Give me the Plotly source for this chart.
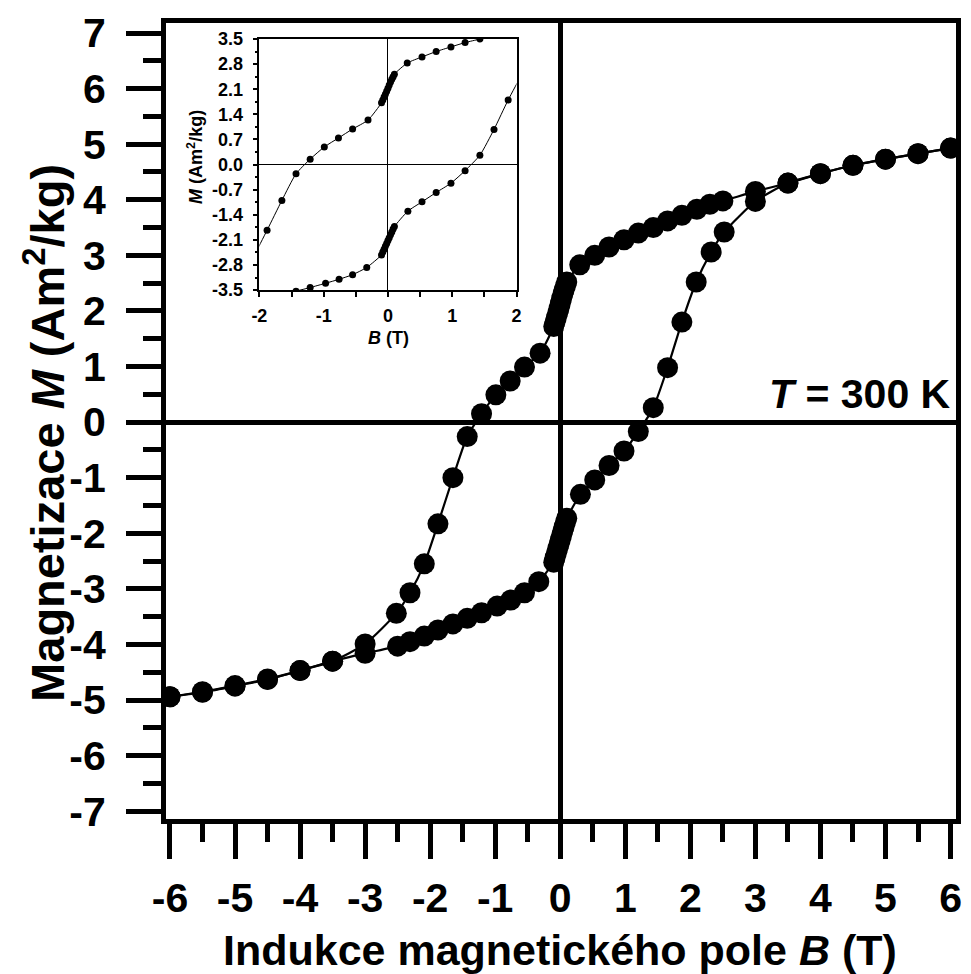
import plotly.graph_objects as go

# ---------------- data ----------------
# descending-field branch (upper branch)
upper_B = [6.0, 5.5, 5.0, 4.5, 4.0, 3.5, 3.0,
           2.5, 2.3, 2.1, 1.87, 1.65, 1.43, 1.2, 0.98, 0.75, 0.53, 0.3,
           0.1, 0.08, 0.06, 0.04, 0.02, 0.0, -0.02, -0.04, -0.06, -0.08, -0.1,
           -0.31, -0.55, -0.77, -0.99, -1.21, -1.43, -1.65, -1.88, -2.09, -2.31, -2.52,
           -3.0, -3.5, -4.0, -4.5, -5.0, -5.5, -6.0]
upper_M = [4.93, 4.83, 4.73, 4.62, 4.47, 4.30, 4.15,
           3.98, 3.92, 3.83, 3.72, 3.62, 3.50, 3.40, 3.28, 3.15, 3.00, 2.83,
           2.52, 2.45, 2.38, 2.30, 2.22, 2.13, 2.04, 1.96, 1.88, 1.80, 1.72,
           1.24, 0.99, 0.74, 0.49, 0.15, -0.26, -1.00, -1.83, -2.55, -3.07, -3.44,
           -3.99, -4.30, -4.47, -4.63, -4.75, -4.86, -4.94]

# ascending-field branch (lower branch)
lower_B = [-6.0, -5.5, -5.0, -4.5, -4.0, -3.5, -3.0,
           -2.5, -2.31, -2.09, -1.88, -1.65, -1.43, -1.21, -0.97, -0.76, -0.55, -0.33,
           -0.1, -0.08, -0.06, -0.04, -0.02, 0.0, 0.02, 0.04, 0.06, 0.08, 0.1,
           0.31, 0.53, 0.75, 0.98, 1.2, 1.43, 1.65, 1.87, 2.09, 2.32, 2.52,
           3.0, 3.5, 4.0, 4.5, 5.0, 5.5, 6.0]
lower_M = [-4.94, -4.85, -4.74, -4.62, -4.47, -4.30, -4.16,
           -4.03, -3.95, -3.85, -3.74, -3.63, -3.53, -3.43, -3.31, -3.20, -3.07, -2.87,
           -2.52, -2.44, -2.36, -2.28, -2.20, -2.12, -2.04, -1.96, -1.88, -1.80, -1.73,
           -1.30, -1.04, -0.78, -0.52, -0.17, 0.26, 0.98, 1.80, 2.52, 3.06, 3.42,
           3.97, 4.30, 4.47, 4.62, 4.73, 4.83, 4.93]

# tick labels
x_tick_vals = [-6, -5, -4, -3, -2, -1, 0, 1, 2, 3, 4, 5, 6]
x_tick_text = ["-6", "-5", "-4", "-3", "-2", "-1", "0", "1", "2", "3", "4", "5", "6"]
y_tick_vals = [-7, -6, -5, -4, -3, -2, -1, 0, 1, 2, 3, 4, 5, 6, 7]
y_tick_text = ["-7", "-6", "-5", "-4", "-3", "-2", "-1", "0", "1", "2", "3", "4", "5", "6", "7"]
inset_x_tick_vals = [-2, -1, 0, 1, 2]
inset_x_tick_text = ["-2", "-1", "0", "1", "2"]
inset_y_tick_vals = [-3.5, -2.8, -2.1, -1.4, -0.7, 0.0, 0.7, 1.4, 2.1, 2.8, 3.5]
inset_y_tick_text = ["-3.5", "-2.8", "-2.1", "-1.4", "-0.7", "0.0", "0.7", "1.4", "2.1", "2.8", "3.5"]

x_title = "Indukce magnetického pole <i>B</i> (T)"
y_title = "Magnetizace <i>M</i> (Am<sup>2</sup>/kg)"
inset_x_title = "<i>B</i> (T)"
inset_y_title = "<i>M</i> (Am<sup>2</sup>/kg)"
temp_label = "<i>T</i> = 300 K"

FONT = "Liberation Sans, Arial, sans-serif"

fig = go.Figure()

# main loop
for bx, my in ((upper_B, upper_M), (lower_B, lower_M)):
    fig.add_trace(go.Scatter(
        x=bx, y=my, mode="lines+markers",
        line=dict(color="black", width=2.2, shape="spline", smoothing=0.6),
        marker=dict(color="black", size=21),
        xaxis="x", yaxis="y", hoverinfo="x+y"))

# inset loop
for bx, my in ((upper_B, upper_M), (lower_B, lower_M)):
    fig.add_trace(go.Scatter(
        x=bx, y=my, mode="lines+markers",
        line=dict(color="black", width=1, shape="spline", smoothing=0.6),
        marker=dict(color="black", size=7),
        xaxis="x2", yaxis="y2", hoverinfo="x+y"))

main_tickfont = dict(family=FONT, size=41, color="black", weight="bold")
inset_tickfont = dict(family=FONT, size=18, color="black", weight="bold")

fig.update_layout(
    width=971, height=974,
    margin=dict(l=166, r=9.5, t=23, b=155.2),
    paper_bgcolor="white", plot_bgcolor="white",
    showlegend=False,
    font=dict(family=FONT, color="black"),
    xaxis=dict(
        domain=[0, 1], anchor="y",
        range=[-6.061, 6.084],
        tickmode="array", tickvals=x_tick_vals, ticktext=x_tick_text,
        ticks="outside", ticklen=35, tickwidth=5, tickcolor="black",
        tickfont=main_tickfont, ticklabelstandoff=4,
        minor=dict(tickmode="linear", tick0=0, dtick=0.5, ticks="outside",
                   ticklen=18, tickwidth=5, tickcolor="black", showgrid=False),
        showline=True, linewidth=5, linecolor="black", mirror=True,
        showgrid=False,
        zeroline=True, zerolinewidth=5, zerolinecolor="black",
    ),
    yaxis=dict(
        domain=[0, 1], anchor="x",
        range=[-7.14, 7.18],
        tickmode="array", tickvals=y_tick_vals, ticktext=y_tick_text,
        ticks="outside", ticklen=35, tickwidth=5, tickcolor="black",
        tickfont=main_tickfont, ticklabelstandoff=12,
        minor=dict(tickmode="linear", tick0=0, dtick=0.5, ticks="outside",
                   ticklen=18, tickwidth=5, tickcolor="black", showgrid=False),
        showline=True, linewidth=5, linecolor="black", mirror=True,
        showgrid=False,
        zeroline=True, zerolinewidth=5, zerolinecolor="black",
    ),
    xaxis2=dict(
        domain=[0.1182, 0.4437], anchor="y2",
        range=[-2, 2],
        tickmode="array", tickvals=inset_x_tick_vals, ticktext=inset_x_tick_text,
        ticks="outside", ticklen=5, tickwidth=1.5, tickcolor="black",
        tickfont=inset_tickfont, ticklabelstandoff=4,
        minor=dict(tickmode="linear", tick0=0, dtick=0.5, ticks="outside",
                   ticklen=5, tickwidth=1.5, tickcolor="black", showgrid=False),
        showline=True, linewidth=1.5, linecolor="black", mirror=True,
        showgrid=False,
        zeroline=True, zerolinewidth=1.2, zerolinecolor="black",
    ),
    yaxis2=dict(
        domain=[0.6645, 0.9799], anchor="x2",
        range=[-3.5, 3.5],
        tickmode="array", tickvals=inset_y_tick_vals, ticktext=inset_y_tick_text,
        ticks="outside", ticklen=5, tickwidth=1.5, tickcolor="black",
        tickfont=inset_tickfont, ticklabelstandoff=6,
        minor=dict(tickmode="linear", tick0=0, dtick=0.35, ticks="outside",
                   ticklen=3, tickwidth=1.5, tickcolor="black", showgrid=False),
        showline=True, linewidth=1.5, linecolor="black", mirror=True,
        showgrid=False,
        zeroline=True, zerolinewidth=1.2, zerolinecolor="black",
    ),
)

ann_font_inset = dict(family=FONT, size=18, color="black", weight="bold")

fig.add_annotation(text=x_title, xref="paper", yref="paper",
                   x=0.4991, y=-0.1649, xanchor="center", yanchor="middle",
                   showarrow=False,
                   font=dict(family=FONT, size=43, color="black", weight="bold"))
fig.add_annotation(text=y_title, xref="paper", yref="paper",
                   x=-0.1534, y=0.4848, xanchor="center", yanchor="middle",
                   textangle=-90, showarrow=False,
                   font=dict(family=FONT, size=47, color="black", weight="bold"))
fig.add_annotation(text=temp_label, xref="paper", yref="paper",
                   x=0.996, y=0.5338, xanchor="right", yanchor="middle",
                   showarrow=False,
                   font=dict(family=FONT, size=41, color="black", weight="bold"))
fig.add_annotation(text=inset_x_title, xref="paper", yref="paper",
                   x=0.2816, y=0.6042, xanchor="center", yanchor="middle",
                   showarrow=False, font=ann_font_inset)
fig.add_annotation(text=inset_y_title, xref="paper", yref="paper",
                   x=0.0365, y=0.8316, xanchor="center", yanchor="middle",
                   textangle=-90, showarrow=False, font=ann_font_inset)

fig.write_html("out.html")
